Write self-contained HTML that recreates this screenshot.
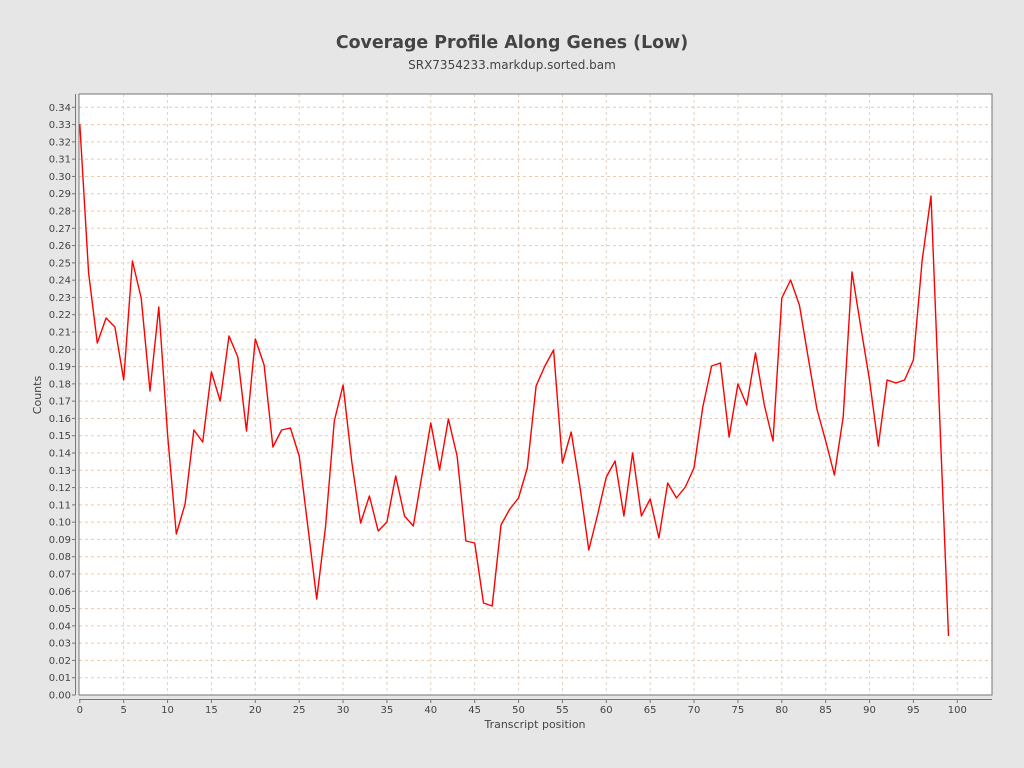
<!DOCTYPE html>
<html><head><meta charset="utf-8"><style>
html,body{margin:0;padding:0;background:#e6e6e6;}
svg{display:block;font-family:"DejaVu Sans","Liberation Sans",sans-serif;}
</style></head><body>
<svg id="s" width="1024" height="768" xmlns="http://www.w3.org/2000/svg">
<rect width="1024" height="768" fill="#e6e6e6"/>
<text x="512" y="48" text-anchor="middle" font-size="17.4" font-weight="bold" fill="#444">Coverage Profile Along Genes (Low)</text>
<text x="512" y="69" text-anchor="middle" font-size="12" fill="#444">SRX7354233.markdup.sorted.bam</text>
<rect x="79" y="94" width="913" height="601" fill="#fff"/>
<g id="grid"></g>
<polyline id="line" fill="none" stroke="#ff0000" stroke-width="1.4" stroke-linejoin="round"/>
<rect x="79" y="94" width="913" height="601" fill="none" stroke="#777" stroke-width="1"/>
<line x1="75.5" y1="94" x2="75.5" y2="695" stroke="#777"/>
<line x1="79" y1="699.5" x2="992" y2="699.5" stroke="#777"/>
<g id="ax" font-size="10" fill="#444"></g>
<text x="41" y="395" font-size="11" fill="#444" text-anchor="middle" transform="rotate(-90 41 395)">Counts</text>
<text x="535" y="728" font-size="11" fill="#444" text-anchor="middle">Transcript position</text>
</svg>
<script>
var ns="http://www.w3.org/2000/svg";
function el(t,a,p,txt){var e=document.createElementNS(ns,t);for(var k in a)e.setAttribute(k,a[k]);if(txt!==undefined)e.textContent=txt;p.appendChild(e);return e;}
var g=document.getElementById('grid'),ax=document.getElementById('ax');
var X=function(i){return 79.8+i*8.775;};
var Y=function(v){return 695-v*1728.5;};
for(var i=0;i<=100;i+=5){var x=X(i);
 if(i>0)el('line',{x1:x,y1:94,x2:x,y2:695,stroke:'#e0d2c4','stroke-width':1,'stroke-dasharray':'3,3'},g);
 el('line',{x1:x,y1:699.5,x2:x,y2:703,stroke:'#777'},ax);
 el('text',{x:x,y:713,'text-anchor':'middle'},ax,String(i));}
for(var j=0;j<=34;j++){var y=Y(j/100);
 if(j>0)el('line',{x1:79,y1:y,x2:992,y2:y,stroke:'#f0c8a4','stroke-width':1,'stroke-dasharray':'3,3'},g);
 el('line',{x1:72,y1:y,x2:75.5,y2:y,stroke:'#777'},ax);
 el('text',{x:71,y:y+3.5,'text-anchor':'end'},ax,(j/100).toFixed(2));}
var py=[124,273,343,318,327,380,261,298,391,307,435,534,504,430,442,372,401,336,357,431,339,365,447,430,428,456,527,599,527,421,385,462,523,496,531,522,476,516,526,475,423,470,419,456,541,543,603,606,525,509,498,468,386,366,350,463,432,487,550,515,477,461,516,453,516,499,538,483,498,487,468,407,366,363,437,384,405,353,405,441,298,280,305,357,409,441,475,417,272,327,380,446,380,383,380,360,260,196,420,636];
var pts=py.map(function(y,i){return X(i).toFixed(1)+','+y;}).join(' ');
document.getElementById('line').setAttribute('points',pts);
</script>
</body></html>
